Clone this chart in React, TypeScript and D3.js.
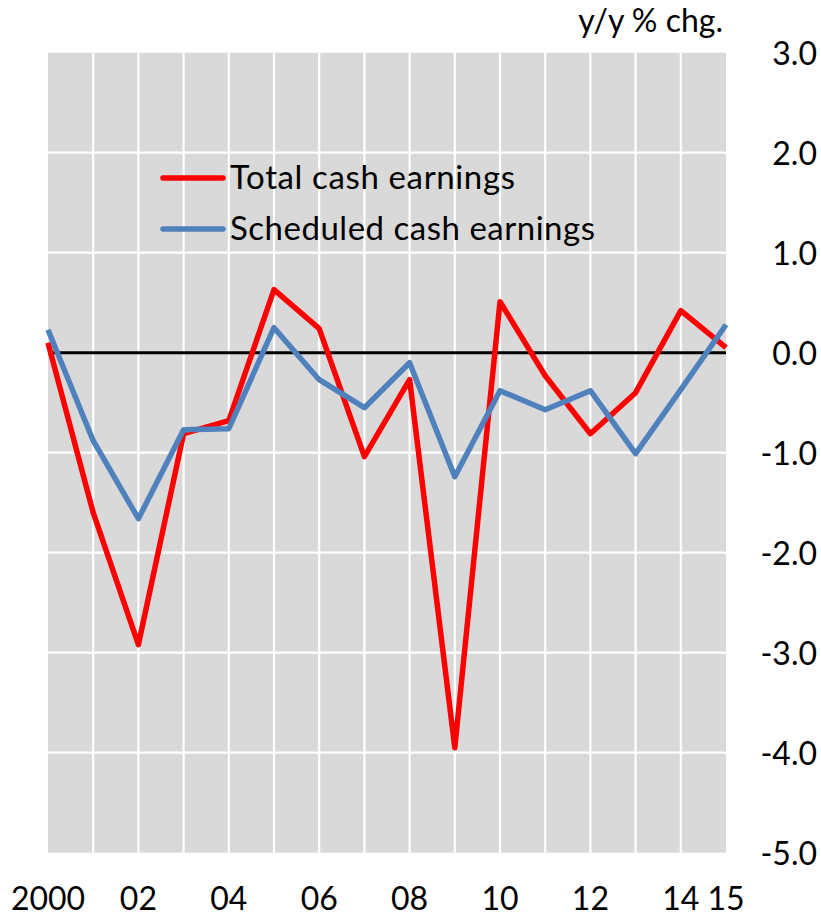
import { useEffect, useRef } from "react";
import * as d3 from "d3";

// year-over-year % change, 2000..2015
const years = d3.range(2000, 2016);
const totalCash = [0.1, -1.6, -2.92, -0.81, -0.68, 0.63, 0.24, -1.04, -0.27, -3.95, 0.51, -0.23, -0.81, -0.4, 0.42, 0.05];
const scheduledCash = [0.23, -0.88, -1.66, -0.77, -0.76, 0.25, -0.27, -0.55, -0.1, -1.24, -0.38, -0.57, -0.38, -1.01, -0.37, 0.28];
const yTicks = [3, 2, 1, 0, -1, -2, -3, -4, -5];
const xLabels = ["2000", "02", "04", "06", "08", "10", "12", "14", "15"];
const xLabelYears = [2000, 2002, 2004, 2006, 2008, 2010, 2012, 2014, 2015];

const series = [
  { name: "Total cash earnings", values: totalCash, color: "#ff0000", len: 285 },
  { name: "Scheduled cash earnings", values: scheduledCash, color: "#4f81bd", len: 365 },
];

export default function App() {
  const ref = useRef<SVGSVGElement | null>(null);

  useEffect(() => {
    const width = 821;
    const height = 918;
    const left = 48;
    const right = 726;
    const top = 52.7;
    const bottom = 852.7;
    const font = "Lato, 'Liberation Sans', sans-serif";
    const fmt = d3.formatLocale({ decimal: ".", thousands: ",", grouping: [3], currency: ["", ""], minus: "-" }).format(".1f");

    const svg = d3.select(ref.current!);
    svg.selectAll("*").remove();
    svg.attr("width", width).attr("height", height);

    const x = d3.scaleLinear().domain([2000, 2015]).range([left, right]);
    const y = d3.scaleLinear().domain([-5, 3]).range([bottom, top]);

    // plot background
    svg
      .append("rect")
      .attr("x", left)
      .attr("y", top)
      .attr("width", right - left)
      .attr("height", bottom - top)
      .attr("fill", "#d9d9d9");

    // white grid
    const grid = svg.append("g").attr("stroke", "#fff").attr("stroke-width", 2.2);
    grid
      .selectAll("line.v")
      .data(years.slice(1, -1))
      .join("line")
      .attr("x1", (d) => x(d))
      .attr("x2", (d) => x(d))
      .attr("y1", top)
      .attr("y2", bottom);
    grid
      .selectAll("line.h")
      .data(yTicks.filter((d) => d !== 3 && d !== -5 && d !== 0))
      .join("line")
      .attr("x1", left)
      .attr("x2", right)
      .attr("y1", (d) => y(d))
      .attr("y2", (d) => y(d));

    // zero line
    svg
      .append("line")
      .attr("x1", left)
      .attr("x2", right)
      .attr("y1", y(0))
      .attr("y2", y(0))
      .attr("stroke", "#000")
      .attr("stroke-width", 3);

    // series lines
    const line = d3
      .line<number>()
      .x((_, i) => x(years[i]))
      .y((d) => y(d));
    series.forEach((s) => {
      svg
        .append("path")
        .attr("d", line(s.values))
        .attr("fill", "none")
        .attr("stroke", s.color)
        .attr("stroke-width", 5.5)
        .attr("stroke-linejoin", "round");
    });

    // y labels on the right
    svg
      .append("g")
      .selectAll("text")
      .data(yTicks)
      .join("text")
      .attr("x", 817)
      .attr("y", (d) => y(d) + 12)
      .attr("text-anchor", "end")
      .attr("font-family", font)
      .attr("font-size", 32)
      .text((d) => fmt(d));

    // x labels
    svg
      .append("g")
      .selectAll("text")
      .data(xLabels)
      .join("text")
      .attr("x", (_, i) => x(xLabelYears[i]))
      .attr("y", 910)
      .attr("text-anchor", "middle")
      .attr("font-family", font)
      .attr("font-size", 32)
      .text((d) => d);

    // unit label
    svg
      .append("text")
      .attr("x", 723)
      .attr("y", 32)
      .attr("text-anchor", "end")
      .attr("font-family", font)
      .attr("font-size", 32)
      .text("y/y % chg.");

    // legend
    const legend = svg.append("g");
    series.forEach((s, i) => {
      const ly = 178 + i * 51;
      legend
        .append("line")
        .attr("x1", 163)
        .attr("x2", 223)
        .attr("y1", ly)
        .attr("y2", ly)
        .attr("stroke", s.color)
        .attr("stroke-width", 5.5)
        .attr("stroke-linecap", "round");
      legend
        .append("text")
        .attr("x", 230)
        .attr("y", ly + 11)
        .attr("font-family", font)
        .attr("font-size", 33)
        .attr("textLength", s.len)
        .attr("lengthAdjust", "spacing")
        .text(s.name);
    });
  }, []);

  return <svg ref={ref} style={{ position: "absolute", left: 0, top: 0 }} />;
}
